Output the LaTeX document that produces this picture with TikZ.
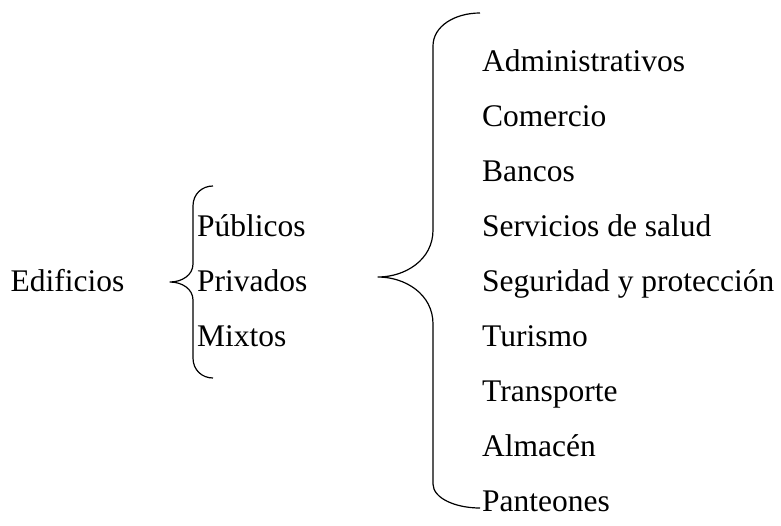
\documentclass[tikz,border=0pt]{standalone}
\usepackage{fontspec}
\setmainfont{Liberation Serif}
\begin{document}
\begin{tikzpicture}[x=1pt,y=-1pt,
  lbl/.style={anchor=base west,inner sep=0pt,font=\fontsize{31.5}{36}\selectfont},
  brace/.style={line width=1.2pt,line join=round}]
\useasboundingbox (0,0) rectangle (781,525);
\node[lbl] (edif) at (10.5,291.7) {Edificios};
\node[lbl] (pub) at (197,236.7) {Públicos};
\node[lbl] (priv) at (197,291.7) {Privados};
\node[lbl] (mix) at (197,346.7) {Mixtos};
\node[lbl] (r1) at (482,71.7) {Administrativos};
\node[lbl] (r2) at (482,126.7) {Comercio};
\node[lbl] (r3) at (482,181.7) {Bancos};
\node[lbl] (r4) at (482,236.7) {Servicios de salud};
\node[lbl] (r5) at (482,291.7) {Seguridad y protección};
\node[lbl] (r6) at (482,346.7) {Turismo};
\node[lbl] (r7) at (482,401.7) {Transporte};
\node[lbl] (r8) at (482,456.7) {Almacén};
\node[lbl] (r9) at (482,511.7) {Panteones};
% small brace
\draw[brace] (213,186) .. controls (202,186) and (193,194) .. (193,206)
  -- (193,264) .. controls (193,275) and (182,282) .. (170,282)
  .. controls (182,282) and (193,289) .. (193,300)
  -- (193,358) .. controls (193,370) and (202,378) .. (213,378);
% large brace
\draw[brace] (480,13) .. controls (455,13) and (433,26) .. (433,46)
  -- (433,230) .. controls (433,260) and (405,277) .. (378,277)
  .. controls (405,277) and (433,294) .. (433,324)
  -- (433,484) .. controls (433,498) and (455,508) .. (480,508);
\end{tikzpicture}
\end{document}
